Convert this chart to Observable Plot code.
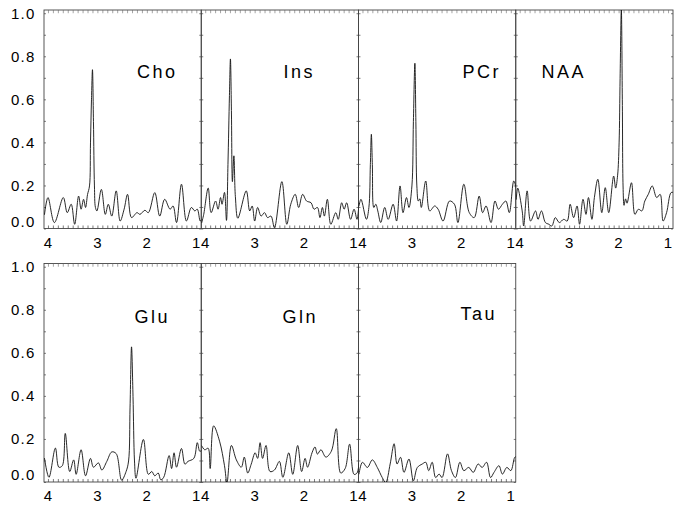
<!DOCTYPE html>
<html><head><meta charset="utf-8">
<script src="https://cdn.jsdelivr.net/npm/d3@7"></script>
<script src="https://cdn.jsdelivr.net/npm/@observablehq/plot@0.6"></script>
<style>
body{margin:0;background:#fff}
svg text{font-family:"Liberation Sans",Arial,sans-serif;}
</style>
</head><body><div id="chart"></div>
<script>
// Panels
const metabolites = ["Cho","Ins","PCr","NAA","Glu","Gln","Tau"];
const panelCol = [0,1,2,3,0,1,2];
const panelRow = [0,0,0,0,1,1,1];
const labelPpm = [1.80, 2.11, 1.60, 3.12, 1.90, 2.09, 1.66];
const labelValue = [0.728, 0.728, 0.728, 0.728, 0.77, 0.77, 0.78];
const xTicks = [4,3,2,1];
const yTicks = [0.2,0.4,0.6,0.8,1.0];

// Spectra: [ppm, relative intensity]
const cho = [[4.08,0.068],[4.01,0.146],[3.88,0.03],[3.70,0.146],[3.62,0.076],[3.54,0.115],[3.47,0.022],[3.39,0.153],[3.34,0.092],[3.29,0.138],[3.25,0.10],[3.21,0.16],[3.17,0.2],[3.15,0.4],[3.13,0.6],[3.11,0.74],[3.09,0.5],[3.07,0.2],[3.05,0.1],[3.02,0.084],[2.93,0.184],[2.85,0.068],[2.79,0.115],[2.72,0.06],[2.63,0.177],[2.55,0.037],[2.47,0.092],[2.40,0.161],[2.32,0.053],[2.21,0.076],[2.15,0.068],[2.05,0.087],[1.98,0.076],[1.85,0.169],[1.75,0.06],[1.65,0.138],[1.54,0.092],[1.48,0.107],[1.41,0.03],[1.31,0.208],[1.21,0.037],[1.11,0.10],[1.04,0.084],[0.99,0.092],[0.93,0.037],[0.90,0.045]];
const ins = [[4.08,0.03],[4.04,0.068],[3.95,0.19],[3.89,0.076],[3.80,0.13],[3.75,0.092],[3.70,0.146],[3.67,0.115],[3.62,0.17],[3.58,0.04],[3.55,0.3],[3.52,0.62],[3.50,0.79],[3.48,0.55],[3.46,0.22],[3.43,0.34],[3.40,0.15],[3.35,0.05],[3.18,0.177],[3.11,0.084],[3.06,0.107],[3.01,0.037],[2.95,0.10],[2.88,0.06],[2.81,0.076],[2.75,0.053],[2.68,0.06],[2.61,0.006],[2.46,0.22],[2.36,0.022],[2.28,0.115],[2.19,0.161],[2.12,0.10],[2.04,0.161],[1.96,0.13],[1.87,0.122],[1.81,0.092],[1.74,0.10],[1.69,0.053],[1.64,0.10],[1.60,0.06],[1.54,0.138],[1.47,0.022],[1.37,0.076],[1.32,0.045],[1.25,0.122],[1.20,0.092],[1.15,0.122],[1.07,0.045],[1.00,0.092],[0.94,0.045],[0.90,0.12]];
const pcr = [[4.08,0.107],[4.04,0.138],[3.93,0.045],[3.88,0.1],[3.85,0.3],[3.83,0.44],[3.81,0.3],[3.78,0.1],[3.74,0.115],[3.70,0.084],[3.64,0.03],[3.56,0.10],[3.49,0.045],[3.39,0.115],[3.32,0.037],[3.25,0.20],[3.19,0.076],[3.12,0.146],[3.07,0.10],[3.01,0.2],[2.98,0.5],[2.95,0.77],[2.93,0.5],[2.91,0.2],[2.88,0.13],[2.85,0.14],[2.82,0.10],[2.73,0.223],[2.65,0.084],[2.55,0.107],[2.48,0.092],[2.38,0.037],[2.25,0.13],[2.15,0.115],[2.08,0.03],[1.96,0.208],[1.85,0.076],[1.75,0.053],[1.65,0.153],[1.58,0.076],[1.51,0.107],[1.41,0.03],[1.33,0.13],[1.26,0.092],[1.18,0.115],[1.11,0.13],[1.04,0.076],[0.95,0.223],[0.90,0.19]];
const naa = [[4.08,0.138],[4.05,0.19],[3.96,0.084],[3.93,0.014],[3.86,0.177],[3.79,0.037],[3.69,0.084],[3.64,0.045],[3.57,0.084],[3.49,0.03],[3.42,0.022],[3.36,0.014],[3.29,0.053],[3.21,0.03],[3.12,0.045],[3.05,0.037],[2.99,0.115],[2.92,0.053],[2.85,0.107],[2.80,0.022],[2.73,0.138],[2.67,0.068],[2.62,0.146],[2.55,0.045],[2.50,0.146],[2.43,0.231],[2.35,0.076],[2.28,0.192],[2.21,0.076],[2.11,0.246],[2.07,0.19],[2.03,0.25],[2.00,0.4],[1.98,0.7],[1.955,1.02],[1.935,0.6],[1.92,0.2],[1.90,0.11],[1.87,0.14],[1.84,0.12],[1.75,0.215],[1.68,0.068],[1.61,0.092],[1.54,0.084],[1.48,0.13],[1.41,0.161],[1.33,0.20],[1.24,0.146],[1.17,0.161],[1.11,0.037],[1.04,0.076],[0.95,0.169],[0.90,0.17]];
const glu = [[4.08,0.112],[3.99,0.024],[3.86,0.16],[3.79,0.071],[3.72,0.078],[3.66,0.228],[3.57,0.051],[3.49,0.105],[3.44,0.038],[3.34,0.152],[3.25,0.031],[3.15,0.112],[3.09,0.071],[2.99,0.091],[2.92,0.058],[2.82,0.098],[2.72,0.142],[2.63,0.134],[2.52,0.011],[2.43,0.051],[2.38,0.1],[2.35,0.35],[2.32,0.63],[2.29,0.4],[2.26,0.1],[2.23,0.02],[2.08,0.20],[1.98,0.038],[1.91,0.051],[1.85,0.031],[1.78,0.044],[1.73,0.013],[1.67,0.024],[1.56,0.125],[1.51,0.065],[1.46,0.138],[1.41,0.071],[1.31,0.158],[1.24,0.085],[1.18,0.098],[1.06,0.112],[0.99,0.185],[0.94,0.145],[0.90,0.15]];
const gln = [[4.08,0.17],[4.02,0.152],[3.95,0.159],[3.91,0.065],[3.84,0.263],[3.72,0.192],[3.62,0.078],[3.57,0.0],[3.48,0.172],[3.38,0.105],[3.28,0.071],[3.22,0.118],[3.15,0.044],[3.08,0.085],[3.00,0.138],[2.95,0.112],[2.90,0.185],[2.85,0.112],[2.78,0.172],[2.70,0.051],[2.61,0.058],[2.51,0.098],[2.44,0.024],[2.32,0.138],[2.24,0.038],[2.14,0.172],[2.06,0.051],[1.99,0.112],[1.94,0.071],[1.85,0.138],[1.79,0.165],[1.74,0.132],[1.67,0.152],[1.57,0.118],[1.46,0.145],[1.36,0.25],[1.27,0.044],[1.18,0.065],[1.09,0.178],[1.00,0.038],[0.94,0.044],[0.90,0.09]];
const tau = [[4.08,0.04],[4.01,0.094],[3.91,0.07],[3.81,0.105],[3.71,0.07],[3.61,0.023],[3.54,0.0],[3.45,0.086],[3.37,0.18],[3.31,0.086],[3.24,0.117],[3.17,0.047],[3.07,0.109],[2.98,0.008],[2.90,0.07],[2.80,0.086],[2.73,0.094],[2.67,0.055],[2.60,0.094],[2.53,0.023],[2.46,0.039],[2.40,0.023],[2.29,0.133],[2.21,0.055],[2.13,0.023],[2.04,0.094],[1.96,0.055],[1.86,0.07],[1.77,0.047],[1.67,0.086],[1.59,0.07],[1.50,0.094],[1.42,0.023],[1.35,0.047],[1.25,0.078],[1.18,0.039],[1.09,0.07],[1.01,0.055],[0.93,0.117],[0.90,0.12]];

const spectra = [cho, ins, pcr, naa, glu, gln, tau];
const rows = metabolites.flatMap((m, i) => spectra[i].map(([ppm, v]) => ({m, col: panelCol[i], row: panelRow[i], ppm, v})));
const labels = metabolites.map((m, i) => ({m, col: panelCol[i], row: panelRow[i], x: labelPpm[i], y: labelValue[i]}));
const frames = metabolites.map((m, i) => ({m, col: panelCol[i], row: panelRow[i]}));
const minorX = d3.range(10, 41).map(d => d / 10);
const minorY = d3.range(0, 11).map(d => d / 10);

const ink = "#111";
const chart = Plot.plot({
  width: 674, height: 509,
  marginTop: 10, marginBottom: 27, marginLeft: 44, marginRight: 1,
  x: {domain: [4.08, 0.9]},
  y: {domain: [0, 1.015]},
  fx: {axis: null, paddingInner: 0, paddingOuter: 0, round: false},
  fy: {axis: null, paddingInner: 0.138, paddingOuter: 0, round: false},
  style: {fontFamily: "Liberation Sans, Arial, sans-serif", color: "#000"},
  marks: [
    Plot.rect(frames, {fx: "col", fy: "row", x1: 4.08, x2: 0.9, y1: 0, y2: 1.015, fill: "none", stroke: "#444", strokeWidth: 0.9}),
    Plot.ruleX(minorX, {x: d => d, y1: 0, y2: 0.014, stroke: "#444", strokeWidth: 0.7}),
    Plot.ruleX(minorX, {x: d => d, y1: 1.0, y2: 1.015, stroke: "#666", strokeWidth: 0.6}),
    Plot.ruleY(minorY, {y: d => d, x1: 4.08, x2: 4.04, stroke: "#444", strokeWidth: 0.7}),
    Plot.ruleY(minorY, {y: d => d, x1: 0.94, x2: 0.9, stroke: "#444", strokeWidth: 0.7}),
    Plot.line(rows, {x: "ppm", y: "v", fx: "col", fy: "row", z: "m", curve: "catmull-rom", stroke: ink, strokeWidth: 0.9, clip: true}),
    Plot.text(labels, {x: "x", y: "y", fx: "col", fy: "row", text: "m", fontSize: 18, fill: "#000"}),
    Plot.axisX({ticks: xTicks, tickSize: 0, tickPadding: 8, fontSize: 15, fill: "#000", facetAnchor: null, tickFormat: d3.format("d")}),
    Plot.axisY({ticks: yTicks, tickSize: 0, tickPadding: 9, fontSize: 15, fill: "#000", tickFormat: d3.format(".1f")}),
    Plot.axisY({ticks: [0], tickSize: 0, tickPadding: 9, fontSize: 15, fill: "#000", dy: -7, tickFormat: d3.format(".1f")})
  ]
});
chart.querySelectorAll('g[aria-label="text"] text').forEach(t => t.style.letterSpacing = "2.5px");
chart.querySelectorAll('g[aria-label^="x-axis"] text, g[aria-label^="y-axis"] text').forEach(t => t.style.letterSpacing = "1.2px");
document.getElementById("chart").appendChild(chart);
</script>
</body></html>
